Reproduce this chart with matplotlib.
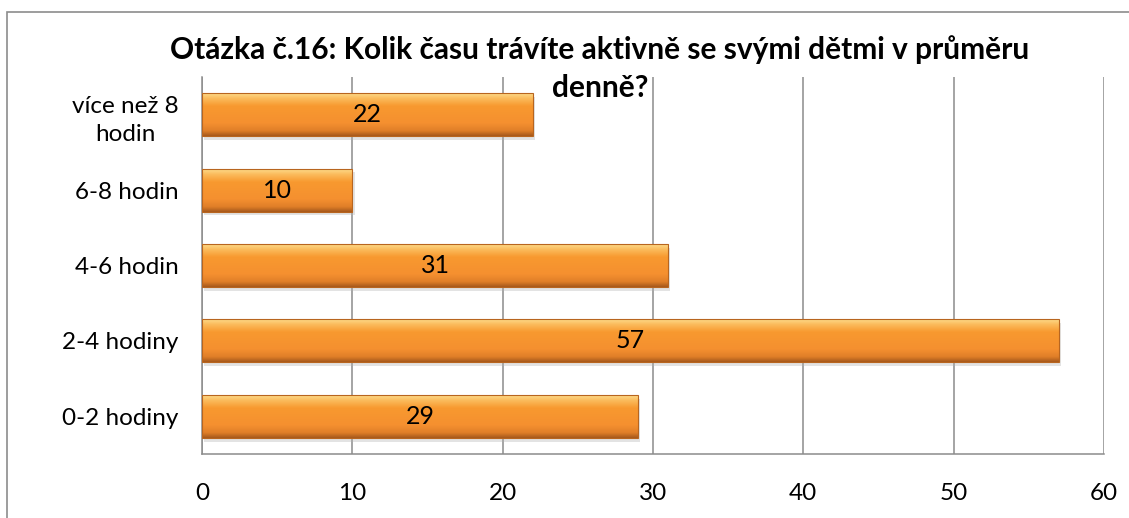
import matplotlib
matplotlib.use("Agg")
import matplotlib.pyplot as plt
import numpy as np
from matplotlib.colors import LinearSegmentedColormap
from matplotlib.patches import Rectangle

categories = ["0-2 hodiny", "2-4 hodiny", "4-6 hodin", "6-8 hodin", "více než 8\nhodin"]
values = [29, 57, 31, 10, 22]
xticks = [0, 10, 20, 30, 40, 50, 60]
title_line1 = "Otázka č.16: Kolik času trávíte aktivně se svými dětmi v průměru"
title_line2 = "denně?"

plt.rcParams['font.family'] = ['Lato', 'DejaVu Sans']

fig = plt.figure(figsize=(11.29, 5.18), dpi=100)
fig.patch.set_facecolor('white')
# outer chart border
fig.add_artist(Rectangle((7/1129, -0.01), 1.2, 1 - 12/518 + 0.01, transform=fig.transFigure,
                         fill=False, edgecolor='#8c8c8c', linewidth=1.2))

ax = fig.add_axes([202/1129, 1 - 454/518, (1104 - 202)/1129, (454 - 77)/518])
ax.set_xlim(0, 60)
ax.set_ylim(-0.5, len(categories) - 0.5)

bh = 0.57
cmap = LinearSegmentedColormap.from_list('bar', [
    (0.0, '#FDDA88'), (0.12, '#FBBB5C'), (0.3, '#F8992F'),
    (0.7, '#F59030'), (0.88, '#E07F28'), (1.0, '#A85A1C')])
grad = np.linspace(0, 1, 100).reshape(-1, 1)

for i, v in enumerate(values):
    y0 = i - bh / 2
    # shadow
    ax.add_patch(Rectangle((0.1, y0 - 0.05), v + 0.05, bh, facecolor='#b0b0b0',
                           edgecolor='none', alpha=0.35, zorder=2))
    im = ax.imshow(grad, cmap=cmap, aspect='auto',
                   extent=(0, v, y0, y0 + bh), origin='upper', zorder=3)
    rect = Rectangle((0, y0), v, bh, facecolor='none', edgecolor='#B8651F',
                     linewidth=0.8, zorder=4)
    ax.add_patch(rect)
    im.set_clip_path(rect)
    ax.text(v / 2, i, str(v), ha='center', va='center', fontsize=18, color='black', zorder=5)

ax.set_xlim(0, 60)
ax.set_ylim(-0.5, len(categories) - 0.5)
ax.set_xticks(xticks)
ax.set_xticklabels([str(t) for t in xticks], fontsize=17.5)
ax.set_yticks(range(len(categories)))
ax.set_yticklabels(categories, fontsize=17.5, multialignment='center', linespacing=1.45)
ax.grid(axis='x', color='#8c8c8c', linewidth=1.1, zorder=0)
ax.set_axisbelow(True)
for s in ['top', 'right']:
    ax.spines[s].set_visible(False)
for s in ['left', 'bottom']:
    ax.spines[s].set_color('#8c8c8c')
    ax.spines[s].set_linewidth(1.1)
ax.tick_params(axis='x', length=0, pad=21)
ax.tick_params(axis='y', length=0, pad=17)

fig.text(600/1129, 1 - 50/518, title_line1,
         ha='center', va='center', fontsize=21.5, fontweight='bold')
fig.text(600/1129, 1 - 88/518, title_line2, ha='center', va='center', fontsize=21.5, fontweight='bold')

fig.savefig('out.png', dpi=100, facecolor='white')
